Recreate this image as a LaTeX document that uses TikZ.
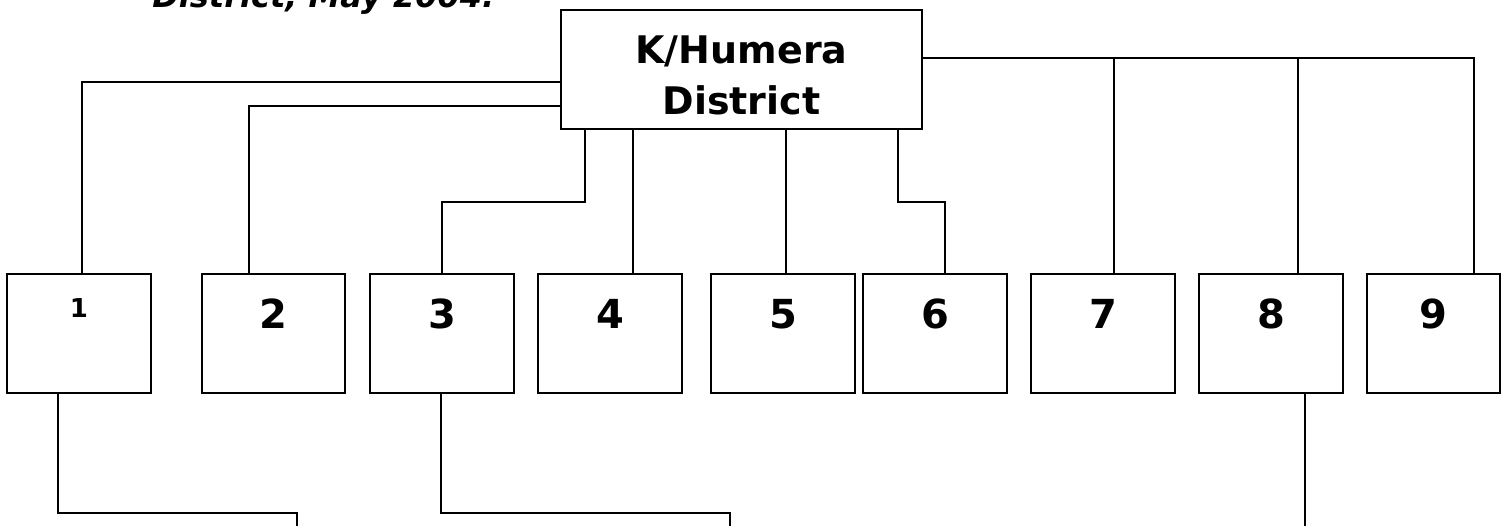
\documentclass[tikz,border=0pt]{standalone}
\usepackage{fontspec}
\setmainfont{DejaVu Sans}
\begin{document}
\begin{tikzpicture}[x=0.5pt,y=-0.5pt,
  box/.style={draw=black,line width=1pt,fill=white,rectangle,inner sep=0pt,
    minimum width=72pt,minimum height=59.5pt,font=\fontsize{20}{24}\selectfont\bfseries,
    text height=27pt,text depth=32.5pt},
  topbox/.style={draw=black,line width=1pt,rectangle,inner sep=0pt,
    minimum width=180.5pt,minimum height=59.5pt},
  headtext/.style={anchor=base,inner sep=0pt,font=\fontsize{19}{23}\selectfont\bfseries},
  conn/.style={draw=black,line width=0.8pt}]
\useasboundingbox (0,0) rectangle (1507,526);
\clip (0,0) rectangle (1507,526);
\fill[white] (0,0) rectangle (1507,526);

% caption line running above the chart (only its lower part lies inside the frame)
\node[anchor=base west,inner sep=0pt,font=\fontsize{16}{19}\selectfont\bfseries\itshape]
  (caption) at (152,7) {District, May 2004.};

% district office
\node[topbox] (dist) at (741.5,69.5) {};
\node[headtext] (dl1) at (741.5,63) {K/Humera};
\node[headtext] (dl2) at (741.5,114) {District};

% units below
\node[box,text height=21.5pt,text depth=38pt,font=\fontsize{13}{16}\selectfont\bfseries] (b1) at (79,333.5) {1};
\node[box,minimum width=71.5pt] (b2) at (273.5,333.5) {2};
\node[box] (b3) at (442,333.5) {3};
\node[box] (b4) at (610,333.5) {4};
\node[box] (b5) at (783,333.5) {5};
\node[box] (b6) at (935,333.5) {6};
\node[box] (b7) at (1103,333.5) {7};
\node[box] (b8) at (1271,333.5) {8};
\node[box,minimum width=66.5pt] (b9) at (1433.5,333.5) {9};

% links from the district office
\draw[conn] (dist.west |- 0,82) -| (b1.north -| 82,0);
\draw[conn] (dist.west |- 0,106) -| (b2.north -| 249,0);
\draw[conn] (dist.south -| 585,0) |- (b3.north |- 0,202) -- (b3.north);
\draw[conn] (dist.south -| 633,0) -- (b4.north -| 633,0);
\draw[conn] (dist.south -| 786,0) -- (b5.north -| 786,0);
\draw[conn] (dist.south -| 898,0) |- (945,202) -- (b6.north -| 945,0);
\draw[conn] (dist.east |- 0,58) -| (b9.north -| 1474,0);
\draw[conn] (b7.north -| 1114,0) -- (1114,58);
\draw[conn] (b8.north -| 1298,0) -- (1298,58);

% links continuing below the frame
\coordinate (e1) at (297,526);
\coordinate (e3) at (730,526);
\coordinate (e8) at (1305,526);
\draw[conn] (b1.south -| 58,0) |- (e1 |- 0,513) -- (e1);
\draw[conn] (b3.south -| 441,0) |- (e3 |- 0,513) -- (e3);
\draw[conn] (b8.south -| 1305,0) -- (e8);
\end{tikzpicture}
\end{document}
